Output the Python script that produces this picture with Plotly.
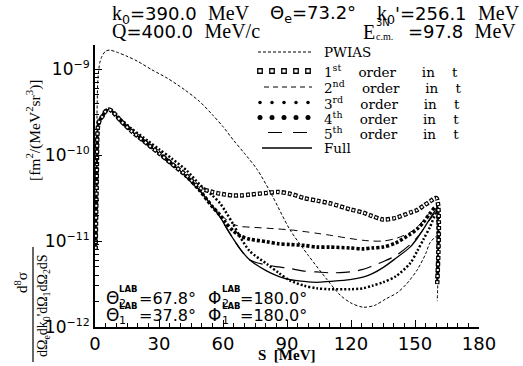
import plotly.graph_objects as go

# ---------------------------------------------------------------------------
# Cross sections d8sigma/(dOmega_e dk0' dOmega_1 dOmega_2 dS)  [fm^2/(MeV^2 sr^3)]
# as a function of the arc length S [MeV] along the kinematical locus.
# ---------------------------------------------------------------------------
S = [0.3, 0.8, 1.4, 2.3, 3.5, 5, 6.5, 8, 12, 17,
     25, 30, 36, 43, 49, 55, 58.6, 61, 64.7, 68,
     72.6, 80.6, 86, 91.4, 98, 104, 110, 119.5, 125.6, 130,
     135, 141, 147.7, 151, 154, 157, 160, 160.4]

full = [7.9e-12, 5.0e-11, 2.14e-10, 2.57e-10, 2.82e-10, 3.24e-10, 3.39e-10, 3.24e-10, 2.51e-10, 1.91e-10,
        1.32e-10, 1.05e-10, 7.9e-11, 5.6e-11, 3.9e-11, 2.51e-11, 1.91e-11, 1.51e-11, 1.07e-11, 8.1e-12,
        6.0e-12, 4.47e-12, 3.89e-12, 3.55e-12, 3.39e-12, 3.31e-12, 3.39e-12, 3.55e-12, 3.8e-12, 4.17e-12,
        4.9e-12, 6.3e-12, 8.5e-12, 1.07e-11, 1.38e-11, 1.82e-11, 2.29e-11, 3.16e-12]

order1 = [7.9e-12, 5.0e-11, 2.14e-10, 2.57e-10, 2.82e-10, 3.24e-10, 3.39e-10, 3.24e-10, 2.51e-10, 1.91e-10,
          1.32e-10, 1.05e-10, 7.9e-11, 5.75e-11, 4.17e-11, 3.72e-11, 3.55e-11, 3.47e-11, 3.39e-11, 3.39e-11,
          3.47e-11, 3.63e-11, 3.72e-11, 3.55e-11, 3.16e-11, 2.95e-11, 2.75e-11, 2.34e-11, 2.14e-11, 1.95e-11,
          1.78e-11, 1.86e-11, 2.14e-11, 2.29e-11, 2.57e-11, 2.88e-11, 3.16e-11, 3.16e-12]

order2 = [7.9e-12, 5.0e-11, 2.14e-10, 2.57e-10, 2.82e-10, 3.24e-10, 3.39e-10, 3.24e-10, 2.51e-10, 1.91e-10,
          1.32e-10, 1.05e-10, 7.9e-11, 5.6e-11, 3.9e-11, 2.57e-11, 2.09e-11, 1.82e-11, 1.58e-11, 1.48e-11,
          1.45e-11, 1.41e-11, 1.38e-11, 1.35e-11, 1.29e-11, 1.23e-11, 1.17e-11, 1.07e-11, 1.02e-11, 1.0e-11,
          1.0e-11, 1.07e-11, 1.26e-11, 1.45e-11, 1.74e-11, 2.14e-11, 2.34e-11, 3.16e-12]

order3 = [7.9e-12, 5.0e-11, 2.14e-10, 2.57e-10, 2.82e-10, 3.24e-10, 3.39e-10, 3.24e-10, 2.63e-10, 2.04e-10,
          1.45e-10, 1.17e-10, 9.1e-11, 6.6e-11, 4.57e-11, 3.39e-11, 2.75e-11, 2.24e-11, 1.58e-11, 1.12e-11,
          7.6e-12, 5.4e-12, 4.27e-12, 3.47e-12, 3.02e-12, 2.82e-12, 2.75e-12, 2.75e-12, 2.82e-12, 3.02e-12,
          3.31e-12, 3.89e-12, 5.5e-12, 7.6e-12, 1.05e-11, 1.45e-11, 2.09e-11, 3.16e-12]

order4 = [7.9e-12, 5.0e-11, 2.14e-10, 2.57e-10, 2.82e-10, 3.24e-10, 3.39e-10, 3.24e-10, 2.51e-10, 1.91e-10,
          1.32e-10, 1.05e-10, 7.9e-11, 5.6e-11, 3.9e-11, 2.51e-11, 2.0e-11, 1.66e-11, 1.32e-11, 1.15e-11,
          1.05e-11, 9.8e-12, 9.3e-12, 9.1e-12, 8.9e-12, 8.5e-12, 8.5e-12, 8.3e-12, 8.1e-12, 8.3e-12,
          8.5e-12, 9.5e-12, 1.2e-11, 1.38e-11, 1.66e-11, 2.09e-11, 2.51e-11, 3.16e-12]

order5 = [7.9e-12, 5.0e-11, 2.14e-10, 2.57e-10, 2.82e-10, 3.24e-10, 3.39e-10, 3.24e-10, 2.51e-10, 1.91e-10,
          1.32e-10, 1.05e-10, 7.9e-11, 5.6e-11, 3.9e-11, 2.51e-11, 1.91e-11, 1.51e-11, 1.07e-11, 8.1e-12,
          6.0e-12, 5.25e-12, 5.0e-12, 4.79e-12, 4.47e-12, 4.37e-12, 4.27e-12, 4.37e-12, 4.68e-12, 5.13e-12,
          5.75e-12, 6.76e-12, 9.1e-12, 1.1e-11, 1.38e-11, 1.78e-11, 2.19e-11, 3.16e-12]

# plane wave impulse approximation (symmetrized)
S_pwias = [0.3, 0.8, 1.4, 2.3, 3.3, 5, 7, 10, 15, 20,
           26.7, 34, 42, 49, 55, 60, 65, 70, 76, 83,
           91.4, 100, 108.8, 115, 120, 125.6, 131, 136, 141.6, 146,
           151, 155, 157, 160, 160.4]
pwias = [1.6e-11, 1.6e-10, 7.9e-10, 1.2e-9, 1.41e-9, 1.62e-9, 1.66e-9, 1.58e-9, 1.41e-9, 1.23e-9,
         9.8e-10, 7.8e-10, 5.75e-10, 4.2e-10, 2.95e-10, 2.14e-10, 1.48e-10, 1.05e-10, 6.8e-11, 3.4e-11,
         1.35e-11, 6.8e-12, 3.55e-12, 2.34e-12, 1.9e-12, 1.7e-12, 1.78e-12, 2.1e-12, 2.5e-12, 3.16e-12,
         4.6e-12, 7.1e-12, 9.5e-12, 1.12e-11, 2.0e-12]

x_ticks = [0, 30, 60, 90, 120, 150, 180]
y_ticks = [1e-12, 1e-11, 1e-10, 1e-9]
y_exponents = ["\u221212", "\u221211", "\u221210", "\u22129"]

SANS = "DejaVu Sans"
SERIF = "Liberation Serif"
LSERIF = "DejaVu Serif"
NB = "\u00a0"

# plot area in pixels (used to place the free text)
L, R, T, B = 95, 479, 45, 327
W, H = 523, 366


def px(x):
    return (x - L) / (R - L)


def py(y):
    return (B - y) / (B - T)


def sf(s, size=20):
    return f'<span style="font-family:{SERIF};font-size:{size}px">{s}</span>'


y_ticktext = [f'10<sup><span style="font-size:11px">{e}</span></sup>' for e in y_exponents]

fig = go.Figure()

common = dict(mode="lines", line_shape="spline", hoverinfo="skip", showlegend=False)

fig.add_trace(go.Scatter(x=S_pwias, y=pwias, line=dict(color="black", width=1, dash="3px,2px", smoothing=0.8), **common))
fig.add_trace(go.Scatter(x=S, y=order5, line=dict(color="black", width=1.2, dash="14px,8px", smoothing=0.8), **common))
fig.add_trace(go.Scatter(x=S, y=order2, line=dict(color="black", width=1, dash="7px,5px", smoothing=0.8), **common))
fig.add_trace(go.Scatter(x=S, y=full, line=dict(color="black", width=1.3, smoothing=0.8), **common))
fig.add_trace(go.Scatter(x=S, y=order3, line=dict(color="black", width=2.5, dash="2px,2px", smoothing=0.8), **common))
fig.add_trace(go.Scatter(x=S, y=order4, line=dict(color="black", width=3.6, dash="3px,2px", smoothing=0.8), **common))
# first order: chain of small open rings (black beads with a white core)
fig.add_trace(go.Scatter(x=S, y=order1, line=dict(color="black", width=4.5, dash="4px,2px", smoothing=0.8), **common))
fig.add_trace(go.Scatter(x=S, y=order1, line=dict(color="white", width=2, dash="0px,1px,2px,3px", smoothing=0.8), **common))

# ---- legend keys, drawn on an overlay axis spanning the plot area ----
rows = [52, 71, 87, 102.5, 117.5, 132.5, 148]
key_x0, key_x1 = px(258), px(312)
bead_x = [px(v) for v in (260, 272, 284, 296, 308)]
lk = dict(xaxis="x2", yaxis="y2", hoverinfo="skip", showlegend=False)
fig.add_trace(go.Scatter(x=[key_x0, key_x1], y=[py(rows[0])] * 2, mode="lines",
                         line=dict(color="black", width=1, dash="3px,2px"), **lk))
fig.add_trace(go.Scatter(x=bead_x, y=[py(rows[1])] * 5, mode="markers",
                         marker=dict(symbol="square-open", size=4.5, color="black", line=dict(width=1.3)), **lk))
fig.add_trace(go.Scatter(x=[px(264), key_x1], y=[py(rows[2])] * 2, mode="lines",
                         line=dict(color="black", width=1, dash="5px,4px"), **lk))
fig.add_trace(go.Scatter(x=bead_x, y=[py(rows[3])] * 5, mode="markers",
                         marker=dict(symbol="circle", size=3.5, color="black"), **lk))
fig.add_trace(go.Scatter(x=bead_x, y=[py(rows[4])] * 5, mode="markers",
                         marker=dict(symbol="circle", size=5, color="black"), **lk))
fig.add_trace(go.Scatter(x=[px(268), key_x1], y=[py(rows[5])] * 2, mode="lines",
                         line=dict(color="black", width=1.2, dash="14px,11px"), **lk))
fig.add_trace(go.Scatter(x=[px(262), key_x1], y=[py(rows[6])] * 2, mode="lines",
                         line=dict(color="black", width=1.3), **lk))

labels = ["PWIAS"] + [f"{n}<sup>{s}</sup>{NB*4}order{NB*6}in{NB*4}t"
                      for n, s in [("1", "st"), ("2", "nd"), ("3", "rd"), ("4", "th"), ("5", "th")]] + ["Full"]

annotations = []


def add(text, x, y, size=18, family=SANS, xanchor="left", yanchor="middle", angle=0):
    annotations.append(dict(x=px(x), y=py(y), xref="paper", yref="paper", text=text,
                            xanchor=xanchor, yanchor=yanchor, textangle=angle, showarrow=False,
                            font=dict(family=family, size=size, color="black")))


for r, lab in zip(rows, labels):
    add(lab, 322, r, size=13.5, family=LSERIF)

# kinematics header
add(sf("k") + "<sub>0</sub>=390.0" + NB * 2 + sf("MeV"), 110, 14)
add("\u0398<sub>e</sub>=73.2\u00b0", 268, 14)
add(sf("k") + "<sub>0</sub>'=256.1" + NB * 2 + sf("MeV"), 375, 14)
add(sf("Q") + "=400.0" + NB * 2 + sf("MeV/c"), 110, 31)
add(sf("E"), 361, 32)
add("3N", 374, 22, size=10)
add("c.m.", 374, 37, size=10, family=SERIF)
add("=97.8" + NB * 2 + sf("MeV"), 406, 31)

# nucleon detector angles
for yy, idx, th in [(298, "2", "67.8"), (315, "1", "37.8")]:
    add("\u0398", 104, yy, size=17)
    add("<b>LAB</b>", 117, yy - 9, size=8.5)
    add(idx, 117, yy + 5, size=11)
    add("=" + th + "\u00b0", 137, yy, size=16)
    add("\u03a6", 206, yy, size=17)
    add("<b>LAB</b>", 220, yy - 9, size=8.5)
    add(idx, 220, yy + 5, size=11)
    add("=180.0\u00b0", 238, yy, size=16)

# axis titles
add("<b>S" + NB * 2 + "[MeV]</b>", 286, 355, size=15, family=SERIF, xanchor="center")
add("[fm<sup>2</sup>/(MeV<sup>2</sup>sr<sup>3</sup>)]", 33, 130, size=15.5, family=SERIF,
    xanchor="center", angle=-90)
add("d<sup>8</sup>\u03c3", 21, 283, size=15, family=SERIF, xanchor="center", angle=-90)
add("d\u03a9<sub>e</sub>dk<sub>0</sub>'d\u03a9<sub>1</sub>d\u03a9<sub>2</sub>dS", 43, 306, size=14,
    family=SERIF, xanchor="center", angle=-90)

shapes = [dict(type="line", xref="paper", yref="paper", x0=px(33), x1=px(33), y0=py(247), y1=py(362),
               line=dict(color="black", width=1.2))]

fig.update_layout(
    width=W, height=H,
    margin=dict(l=L, r=W - R, t=T, b=H - B),
    paper_bgcolor="white", plot_bgcolor="white",
    showlegend=False,
    annotations=annotations,
    shapes=shapes,
    xaxis=dict(range=[0, 180], tickvals=x_ticks, ticks="inside", ticklen=7, tickwidth=1.2,
               tickcolor="black", showline=True, linecolor="black", linewidth=1.5,
               showgrid=False, zeroline=False, mirror=False,
               tickfont=dict(family=SANS, size=18, color="black"),
               minor=dict(dtick=5, ticks="inside", ticklen=4, tickcolor="black", tickwidth=1, showgrid=False)),
    yaxis=dict(type="log", range=[-12, -8.72], tickvals=y_ticks, ticktext=y_ticktext,
               ticks="inside", ticklen=7, tickwidth=1.2, tickcolor="black",
               showline=True, linecolor="black", linewidth=1.8, showgrid=False, zeroline=False,
               tickfont=dict(family=SANS, size=17, color="black"),
               minor=dict(dtick="D1", ticks="inside", ticklen=4, tickcolor="black", tickwidth=1, showgrid=False)),
    xaxis2=dict(overlaying="x", range=[0, 1], visible=False, anchor="y2"),
    yaxis2=dict(overlaying="y", range=[0, 1], visible=False, anchor="x2"),
)

fig.write_html("out.html")
